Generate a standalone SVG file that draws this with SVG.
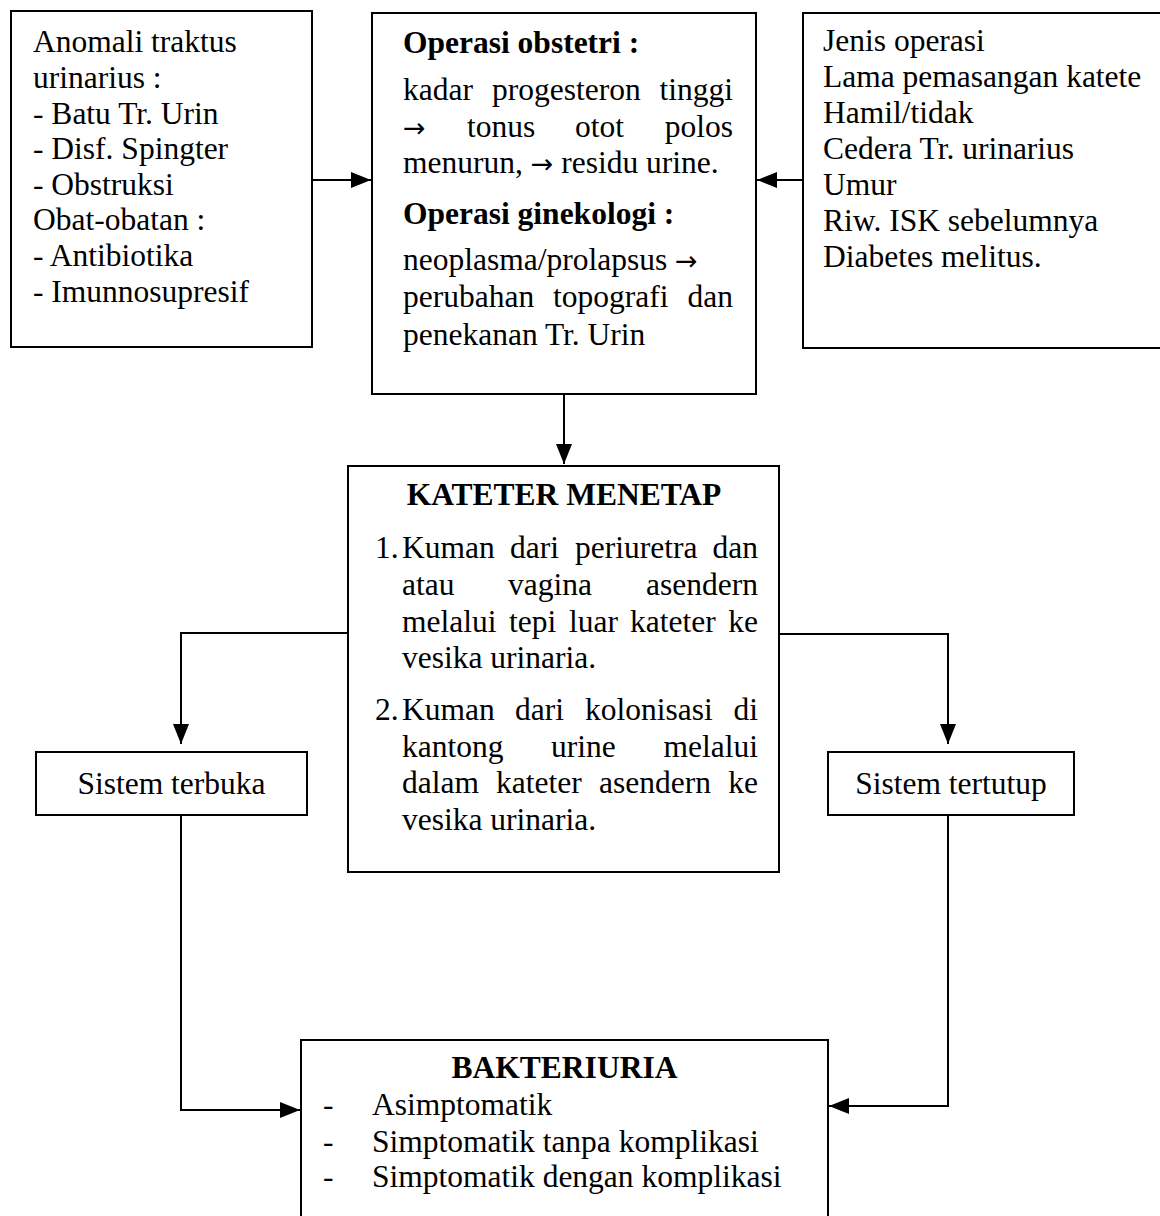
<svg xmlns="http://www.w3.org/2000/svg" width="1160" height="1216" viewBox="0 0 1160 1216">
<style>
.box{fill:#fff;stroke:#000;stroke-width:2}
.t{font-family:"Liberation Serif","Times New Roman",serif;font-size:31.5px;fill:#000}
.b{font-weight:bold}
.ar{font-family:"DejaVu Sans",sans-serif;font-size:27px}
.c{fill:none;stroke:#000;stroke-width:2}
</style>
<defs>
<marker id="ah" markerUnits="userSpaceOnUse" markerWidth="20" markerHeight="16" refX="20" refY="8" orient="auto">
<path d="M0,0 L20,8 L0,16 z" fill="#000"/>
</marker>
</defs>
<rect width="1160" height="1216" fill="#fff"/>
<g id="connectors">
<path class="c" d="M312,180 H371" marker-end="url(#ah)"/>
<path class="c" d="M803,180 H757" marker-end="url(#ah)"/>
<path class="c" d="M564,394 V464" marker-end="url(#ah)"/>
<path class="c" d="M348,633 H181 V744" marker-end="url(#ah)"/>
<path class="c" d="M779,634 H948 V744" marker-end="url(#ah)"/>
<path class="c" d="M181,815 V1110 H300" marker-end="url(#ah)"/>
<path class="c" d="M948,815 V1106 H829" marker-end="url(#ah)"/>
</g>
<g id="n1">
<rect class="box" x="11" y="11" width="301" height="336"/>
<text class="t"><tspan x="33" y="52">Anomali traktus</tspan><tspan x="33" y="88">urinarius :</tspan><tspan x="33" y="124">- Batu Tr. Urin</tspan><tspan x="33" y="159">- Disf. Spingter</tspan><tspan x="33" y="195">- Obstruksi</tspan><tspan x="33" y="230">Obat-obatan :</tspan><tspan x="33" y="266">- Antibiotika</tspan><tspan x="33" y="302">- Imunnosupresif</tspan></text>
</g>
<g id="n2">
<rect class="box" x="372" y="13" width="384" height="381"/>
<text class="t b" x="403" y="53">Operasi obstetri :</text>
<text class="t" y="100"><tspan x="403">kadar</tspan><tspan x="492">progesteron</tspan></text>
<text class="t" x="733" y="100" text-anchor="end">tinggi</text>
<text class="t" y="137"><tspan x="403" class="ar">→</tspan><tspan x="467">tonus</tspan><tspan x="575">otot</tspan></text>
<text class="t" x="733" y="137" text-anchor="end">polos</text>
<text class="t" x="403" y="173">menurun, <tspan class="ar">→</tspan> residu urine.</text>
<text class="t b" x="403" y="224">Operasi ginekologi :</text>
<text class="t" x="403" y="270">neoplasma/prolapsus <tspan class="ar">→</tspan></text>
<text class="t" y="307"><tspan x="403">perubahan</tspan><tspan x="553">topografi</tspan></text>
<text class="t" x="733" y="307" text-anchor="end">dan</text>
<text class="t" x="403" y="345">penekanan Tr. Urin</text>
</g>
<g id="n3">
<rect class="box" x="803" y="13" width="362" height="335"/>
<text class="t"><tspan x="823" y="51">Jenis operasi</tspan><tspan x="823" y="87">Lama pemasangan katete</tspan><tspan x="823" y="123">Hamil/tidak</tspan><tspan x="823" y="159">Cedera Tr. urinarius</tspan><tspan x="823" y="195">Umur</tspan><tspan x="823" y="231">Riw. ISK  sebelumnya</tspan><tspan x="823" y="267">Diabetes melitus.</tspan></text>
</g>
<g id="n4">
<rect class="box" x="348" y="466" width="431" height="406"/>
<text class="t b" x="564" y="505" text-anchor="middle">KATETER MENETAP</text>
<text class="t" y="558"><tspan x="375">1.</tspan><tspan x="402">Kuman</tspan><tspan x="510">dari</tspan><tspan x="575">periuretra</tspan></text>
<text class="t" x="758" y="558" text-anchor="end">dan</text>
<text class="t" y="595"><tspan x="402">atau</tspan><tspan x="508">vagina</tspan></text>
<text class="t" x="758" y="595" text-anchor="end">asendern</text>
<text class="t" y="632"><tspan x="402">melalui</tspan><tspan x="509">tepi</tspan><tspan x="569">luar</tspan><tspan x="630">kateter</tspan></text>
<text class="t" x="758" y="632" text-anchor="end">ke</text>
<text class="t" x="402" y="668">vesika urinaria.</text>
<text class="t" y="720"><tspan x="375">2.</tspan><tspan x="402">Kuman</tspan><tspan x="515">dari</tspan><tspan x="585">kolonisasi</tspan></text>
<text class="t" x="758" y="720" text-anchor="end">di</text>
<text class="t" y="757"><tspan x="402">kantong</tspan><tspan x="551">urine</tspan></text>
<text class="t" x="758" y="757" text-anchor="end">melalui</text>
<text class="t" y="793"><tspan x="402">dalam</tspan><tspan x="496">kateter</tspan><tspan x="599">asendern</tspan></text>
<text class="t" x="758" y="793" text-anchor="end">ke</text>
<text class="t" x="402" y="830">vesika urinaria.</text>
</g>
<g id="n5">
<rect class="box" x="36" y="752" width="271" height="63"/>
<text class="t" x="171.5" y="794" text-anchor="middle">Sistem terbuka</text>
</g>
<g id="n6">
<rect class="box" x="828" y="752" width="246" height="63"/>
<text class="t" x="951" y="794" text-anchor="middle">Sistem tertutup</text>
</g>
<g id="n7">
<rect class="box" x="301" y="1040" width="527" height="190"/>
<text class="t b" x="564.5" y="1078" text-anchor="middle">BAKTERIURIA</text>
<text class="t"><tspan x="323" y="1115">-</tspan><tspan x="372" y="1115">Asimptomatik</tspan><tspan x="323" y="1152">-</tspan><tspan x="372" y="1152">Simptomatik tanpa komplikasi</tspan><tspan x="323" y="1187">-</tspan><tspan x="372" y="1187">Simptomatik dengan komplikasi</tspan></text>
</g>
</svg>
